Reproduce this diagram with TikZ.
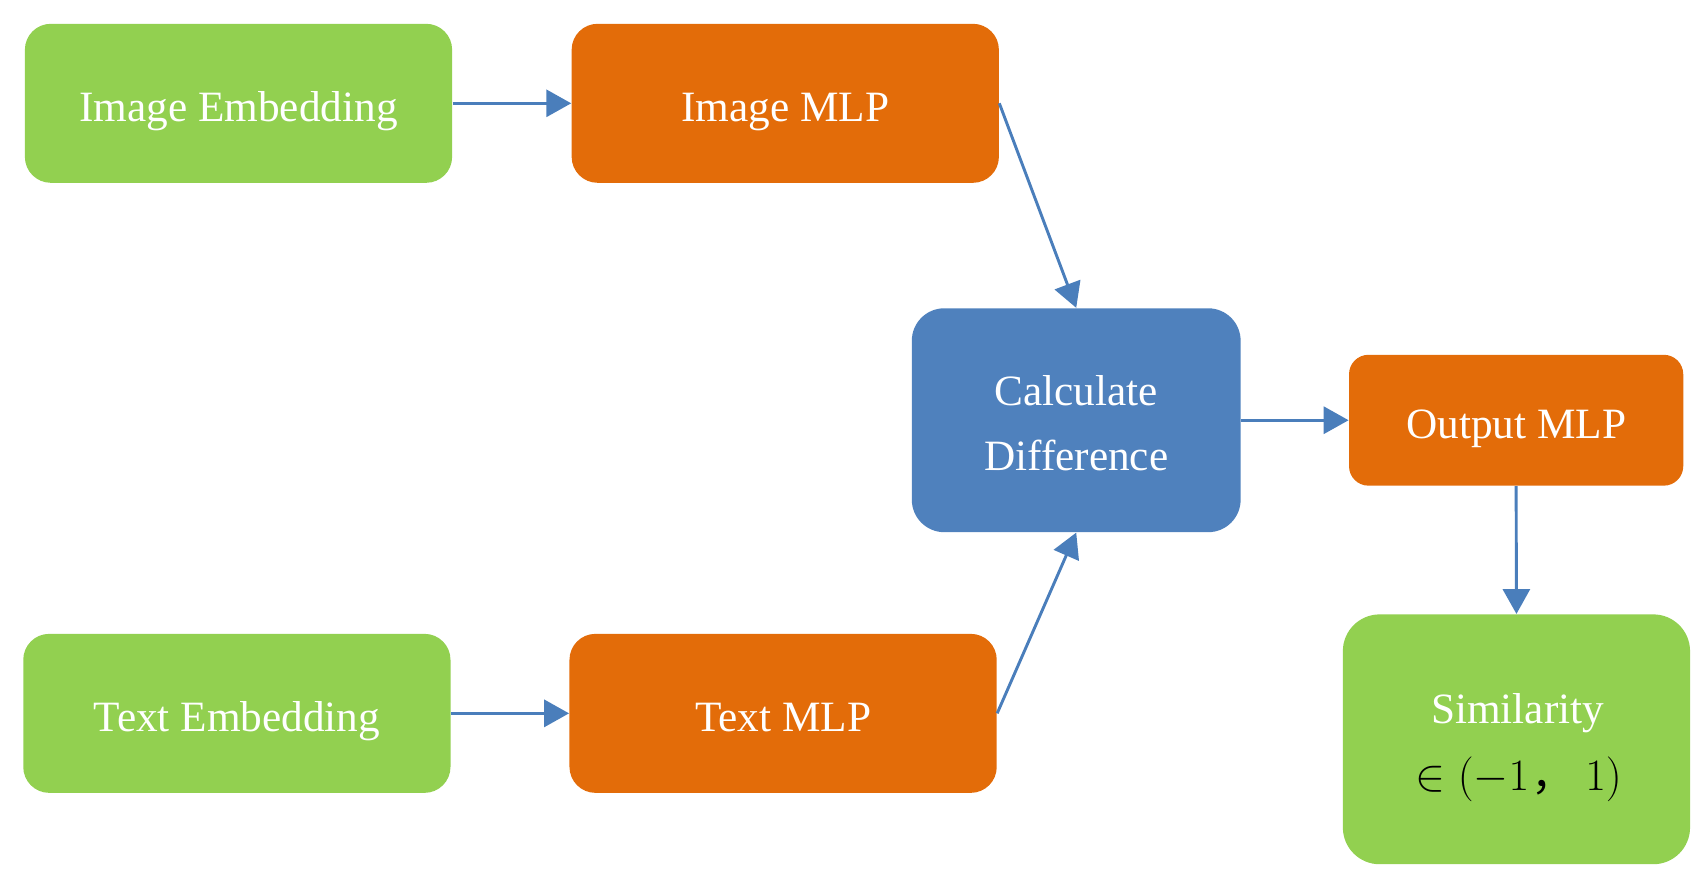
\documentclass[tikz,border=0pt]{standalone}
\usepackage{fontspec}
\setmainfont{Liberation Serif}
\newfontfamily\cjkfont{Noto Sans CJK SC}
\usetikzlibrary{arrows.meta}
\definecolor{boxgreen}{HTML}{92D050}
\definecolor{boxorange}{HTML}{E36C09}
\definecolor{boxblue}{HTML}{4F81BD}
\definecolor{arrowblue}{HTML}{4A7EBB}
\begin{document}
\begin{tikzpicture}[x=0.5pt,y=-0.5pt,
  box/.style={draw=none, inner sep=0pt, text=white,
    font=\fontsize{20}{24}\selectfont, text height=17pt, text depth=0pt},
  wide/.style={box, minimum width=197.5pt, minimum height=73.5pt, rounded corners=12pt},
  greenbox/.style={fill=boxgreen},
  orangebox/.style={fill=boxorange},
  bluebox/.style={fill=boxblue},
  lbl/.style={anchor=base, inner sep=0pt, text=white, font=\fontsize{20}{24}\selectfont},
  arr/.style={draw=arrowblue, line width=1.35pt, -{Triangle[length=11.5pt,width=12.5pt]}}
]
\useasboundingbox (0,0) rectangle (1568,811);

\node[wide, greenbox] (ie) at (220.5,95.5) {Image Embedding};
\node[wide, orangebox] (imlp) at (726,95.5) {Image MLP};
\node[wide, greenbox] (te) at (219,659.5) {Text Embedding};
\node[wide, orangebox] (tmlp) at (724,659.5) {Text MLP};

\node[box, bluebox, minimum width=152pt, minimum height=103.5pt, rounded corners=15pt] (cd) at (995,388.5) {};
\node[lbl] (cdl1) at (995,374.5) {Calculate};
\node[lbl] (cdl2) at (995,435) {Difference};

\node[box, orangebox, minimum width=154.5pt, minimum height=60.5pt, rounded corners=9pt] (omlp) at (1401.7,388.5) {Output MLP};

\node[box, greenbox, minimum width=160.5pt, minimum height=115.5pt, rounded corners=17pt] (sim) at (1402,683.5) {};
\node[lbl] (siml1) at (1403,668.8) {Similarity};
\node[lbl, text=black, font=\fontsize{20}{24}\selectfont] (siml2) at (1404,731) {$\in(-1$\kern1pt{\cjkfont ，}\kern5pt$1)$};

\draw[arr] (ie.east) -- (imlp.west);
\draw[arr] (te.east) -- (tmlp.west);
\draw[arr] (imlp.east) -- (cd.north);
\draw[arr] (tmlp.east) -- (cd.south);
\draw[arr] (cd.east) -- (cd.east -| omlp.west);
\draw[arr] (omlp.south) -- (sim.north);
\end{tikzpicture}
\end{document}
